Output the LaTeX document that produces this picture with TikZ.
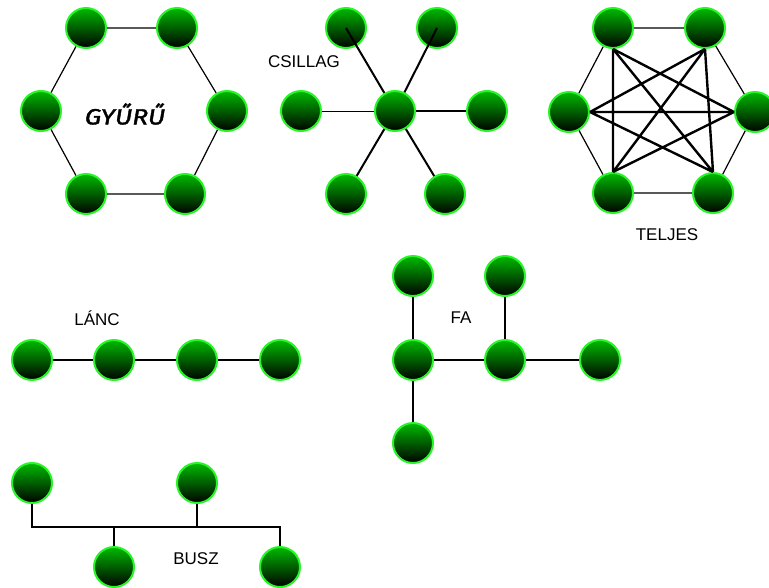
\documentclass[tikz,border=0pt]{standalone}
\usepackage{fontspec}
\usetikzlibrary{backgrounds}
\setmainfont{Liberation Sans}
\newfontfamily\titlefont{Fira Sans}
\definecolor{rim}{RGB}{40,245,40}
\definecolor{ballTop}{RGB}{0,185,0}
\tikzset{
  ball/.style={circle, minimum size=40pt, inner sep=0pt, line width=2pt,
    draw=rim, top color=ballTop, bottom color=black},
  thinlink/.style={line width=1.2pt},
  link/.style={line width=2pt},
  heavylink/.style={line width=2.4pt},
  lbl/.style={font=\fontsize{17}{17}\selectfont, text=black, inner sep=0pt}
}
\begin{document}
\begin{tikzpicture}[x=1pt, y=-1pt]
\clip (0,0) rectangle (769,587);
\begin{scope}[on background layer]
  \fill[white] (0,0) rectangle (769,587);
\end{scope}

% ---- ring ----
\node[ball] (r1) at (86,28) {};
\node[ball] (r2) at (177,28) {};
\node[ball] (r3) at (227,111) {};
\node[ball] (r4) at (185,194) {};
\node[ball] (r5) at (86,194) {};
\node[ball] (r6) at (41,111) {};
\begin{scope}[on background layer]
  \draw[thinlink] (r1) -- (r2) -- (r3) -- (r4) -- (r5) -- (r6) -- (r1);
\end{scope}
\node[font=\titlefont\itshape\fontsize{22}{22}\selectfont, inner sep=0pt] (ringlbl) at (125,114)
  {\scalebox{1.2}[1]{\addfontfeatures{FakeBold=1.5}GYŰRŰ}};

% ---- star ----
\node[ball] (s1) at (346,28) {};
\node[ball] (s2) at (437,28) {};
\coordinate (hub) at (395,111);
\draw[link] (hub) -- (s1.center);
\draw[link] (hub) -- (s2.center);
\node[ball] (s6) at (301,111) {};
\node[ball] (s3) at (487,111) {};
\node[ball] (s5) at (346,194) {};
\node[ball] (s4) at (445,194) {};
\draw[line width=1pt] (hub) -- (s6);
\draw[heavylink] (hub) -- (s3);
\draw[link] (hub) -- (s5);
\draw[link] (hub) -- (s4);
\node[ball] (s0) at (hub) {};
\node[lbl] (starlbl) at (304,62) {CSILLAG};

% ---- complete graph ----
\node[ball] (k1) at (613,28) {};
\node[ball] (k2) at (705,28) {};
\node[ball] (k3) at (755,112) {};
\node[ball] (k4) at (713,193) {};
\node[ball] (k5) at (613,193) {};
\node[ball] (k6) at (569,112) {};
\begin{scope}[on background layer]
  \draw[thinlink] (k1) -- (k2) -- (k3) -- (k4) -- (k5) -- (k6) -- (k1);
\end{scope}
\draw[heavylink]
  (k1.south) -- (k3.west)  (k1.south) -- (k4.north) (k1.south) -- (k5.north)
  (k2.south) -- (k4.north) (k2.south) -- (k5.north) (k2.south) -- (k6.east)
  (k3.west)  -- (k5.north) (k3.west)  -- (k6.east)  (k4.north) -- (k6.east);
\node[lbl] (fulllbl) at (667,235) {TELJES};

% ---- chain ----
\node[ball] (c1) at (32,360) {};
\node[ball] (c2) at (114,360) {};
\node[ball] (c3) at (197,360) {};
\node[ball] (c4) at (280,360) {};
\draw[link] (c1) -- (c2) (c2) -- (c3) (c3) -- (c4);
\node[lbl] (chainlbl) at (97,318) {LÁNC};

% ---- tree ----
\node[ball] (t1) at (413,276) {};
\node[ball] (t2) at (505,276) {};
\node[ball] (t3) at (413,360) {};
\node[ball] (t4) at (505,360) {};
\node[ball] (t5) at (600,360) {};
\node[ball] (t6) at (413,443) {};
\draw[link] (t1) -- (t3) (t3) -- (t6) (t3) -- (t4) (t2) -- (t4) (t4) -- (t5);
\node[lbl] (treelbl) at (461,318) {FA};

% ---- bus ----
\node[ball] (b1) at (32,483) {};
\node[ball] (b2) at (197,483) {};
\node[ball] (b3) at (114,567) {};
\node[ball] (b4) at (280,567) {};
\coordinate (busL) at (32,527);
\coordinate (busR) at (280,527);
\draw[link] (b1) -- (busL) -- (busR) -- (b4);
\draw[link] (b2) -- (b2 |- busL);
\draw[link] (b3) -- (b3 |- busL);
\node[lbl] (buslbl) at (196,559) {BUSZ};
\end{tikzpicture}
\end{document}
